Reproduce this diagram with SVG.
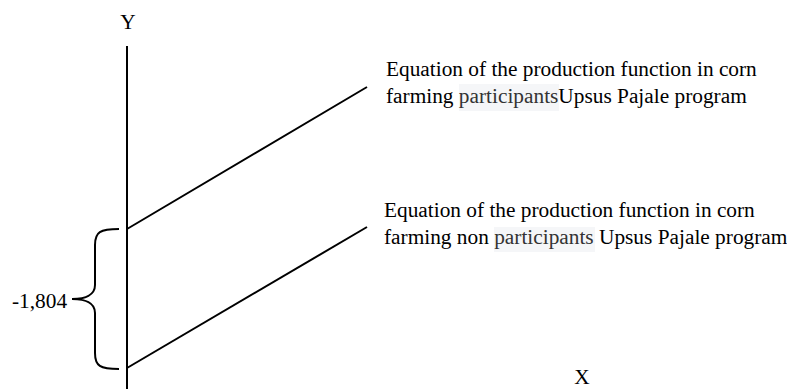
<svg xmlns="http://www.w3.org/2000/svg" width="787" height="389" viewBox="0 0 787 389">
<style>
.ln{stroke:#000;stroke-width:2;fill:none}
.t{font-family:"Liberation Serif","Times New Roman",serif;font-size:21.33px;fill:#000}
.hl{fill:#f5f6f8}
.g{fill:#333}
</style>
<rect width="787" height="389" fill="#fff"/>
<g id="connectors">
<line class="ln" x1="127" y1="46" x2="127" y2="389"/>
<line class="ln" x1="127" y1="229" x2="367" y2="87"/>
<line class="ln" x1="127" y1="368" x2="367" y2="227"/>
<path class="ln" d="M119,229 C100,229 95,232 95,245 L95,285 C95,295 85,299 72,299 C85,299 95,303 95,313 L95,353 C95,366 100,369 119,369"/>
</g>
<g id="axis-y"><text class="t" x="128" y="29" text-anchor="middle">Y</text></g>
<g id="axis-x"><text class="t" x="582" y="384" text-anchor="middle">X</text></g>
<g id="brace-label"><text class="t" x="12" y="308">-1,804</text></g>
<g id="label-participants">
<rect class="hl" x="459" y="84" width="100" height="27"/>
<text class="t" x="386" y="76">Equation of the production function in corn</text>
<text class="t" x="386" y="103">farming <tspan class="g">participants</tspan>Upsus Pajale program</text>
</g>
<g id="label-nonparticipants">
<rect class="hl" x="494" y="227" width="101" height="25"/>
<text class="t" x="384" y="217">Equation of the production function in corn</text>
<text class="t" x="384" y="244">farming non <tspan class="g">participants</tspan> Upsus Pajale program</text>
</g>
</svg>
